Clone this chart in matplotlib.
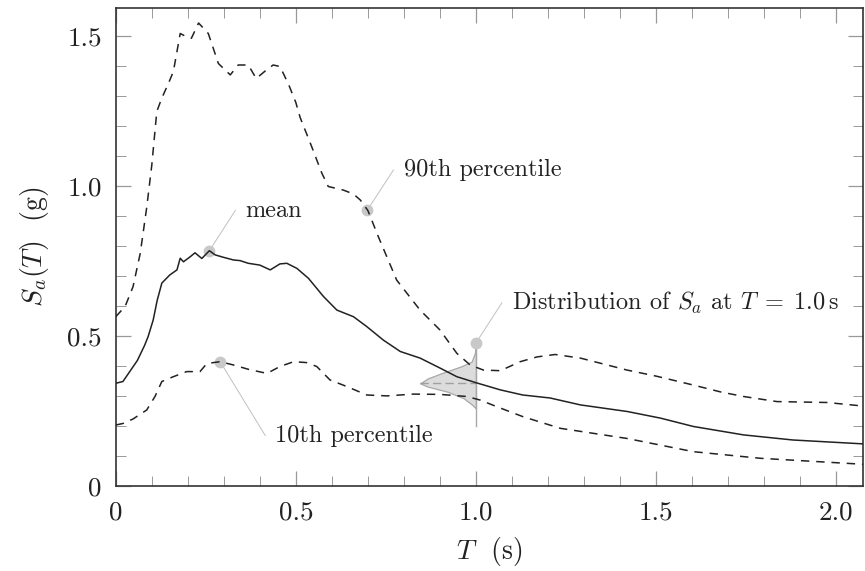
import numpy as np
import matplotlib
matplotlib.use("Agg")
import matplotlib.pyplot as plt
from matplotlib.ticker import MultipleLocator

# LaTeX-like look
plt.rcParams['font.family'] = 'serif'
plt.rcParams['font.serif'] = ['cmr10']
plt.rcParams['mathtext.fontset'] = 'cm'
plt.rcParams['axes.formatter.use_mathtext'] = True

#################
# curve data    #
#################
T_p90 = [0.0, 0.026, 0.048, 0.068, 0.086, 0.10, 0.114, 0.128, 0.145, 0.16, 0.179, 0.195,
         0.21, 0.23, 0.257, 0.285, 0.318, 0.34, 0.368, 0.39, 0.415, 0.437, 0.456, 0.48,
         0.50, 0.512, 0.544, 0.572, 0.59, 0.632, 0.66, 0.679, 0.70, 0.729, 0.78, 0.845,
         0.90, 0.947, 0.984, 1.021, 1.068, 1.123, 1.17, 1.22, 1.29, 1.42, 1.50, 1.604,
         1.68, 1.743, 1.836, 1.975, 2.076]
Sa_p90 = [0.566, 0.60, 0.666, 0.777, 0.93, 1.07, 1.25, 1.295, 1.34, 1.383, 1.51, 1.50,
          1.494, 1.545, 1.51, 1.41, 1.372, 1.405, 1.405, 1.36, 1.385, 1.405, 1.40, 1.34,
          1.28, 1.23, 1.133, 1.045, 1.0, 0.988, 0.975, 0.955, 0.92, 0.833, 0.688, 0.588,
          0.522, 0.444, 0.405, 0.388, 0.386, 0.416, 0.432, 0.44, 0.428, 0.388, 0.368, 0.338,
          0.315, 0.30, 0.283, 0.28, 0.268]

T_mean = [0.0, 0.02, 0.04, 0.06, 0.08, 0.09, 0.104, 0.115, 0.128, 0.15, 0.17, 0.179,
          0.188, 0.207, 0.22, 0.239, 0.26, 0.276, 0.299, 0.327, 0.345, 0.368, 0.40, 0.429,
          0.456, 0.475, 0.503, 0.535, 0.577, 0.614, 0.66, 0.697, 0.743, 0.79, 0.845, 0.90,
          0.947, 1.003, 1.068, 1.13, 1.206, 1.29, 1.42, 1.512, 1.604, 1.743, 1.88, 2.076]
Sa_mean = [0.344, 0.35, 0.385, 0.42, 0.47, 0.50, 0.555, 0.62, 0.678, 0.705, 0.722, 0.761,
           0.749, 0.766, 0.779, 0.76, 0.786, 0.772, 0.764, 0.755, 0.753, 0.744, 0.738, 0.722,
           0.742, 0.744, 0.727, 0.694, 0.633, 0.588, 0.566, 0.533, 0.488, 0.45, 0.428, 0.395,
           0.366, 0.345, 0.322, 0.305, 0.295, 0.272, 0.25, 0.228, 0.20, 0.172, 0.155, 0.142]

T_p10 = [0.0, 0.02, 0.048, 0.086, 0.109, 0.128, 0.16, 0.197, 0.234, 0.253, 0.29, 0.327,
         0.37, 0.42, 0.456, 0.494, 0.53, 0.558, 0.595, 0.642, 0.697, 0.753, 0.826, 0.90,
         0.975, 1.012, 1.058, 1.13, 1.234, 1.42, 1.512, 1.604, 1.79, 2.076]
Sa_p10 = [0.205, 0.21, 0.225, 0.255, 0.30, 0.35, 0.366, 0.383, 0.383, 0.41, 0.416, 0.405,
          0.39, 0.377, 0.40, 0.416, 0.413, 0.40, 0.355, 0.333, 0.305, 0.302, 0.308, 0.307,
          0.30, 0.288, 0.266, 0.233, 0.194, 0.16, 0.138, 0.116, 0.094, 0.074]

# distribution of Sa at T = 1.0 s (width of the shape, in T units)
T_dist = 1.0
dist_sa = [0.472, 0.444, 0.416, 0.40, 0.377, 0.36, 0.349, 0.344, 0.333, 0.316, 0.294, 0.272, 0.26]
dist_w = [0.0, 0.003, 0.012, 0.042, 0.097, 0.134, 0.148, 0.155, 0.134, 0.079, 0.034, 0.010, 0.0]
dist_mode = 0.344

# annotations: (dot T, dot Sa, text T, text Sa, label)
notes = [
    (0.699, 0.922, 0.771, 1.055, "90th percentile"),
    (0.26, 0.786, 0.332, 0.92, "mean"),
    (0.29, 0.416, 0.415, 0.17, "10th percentile"),
    (1.0, 0.478, 1.072, 0.612, r"Distribution of $S_a$ at $T\;=\;1.0\,\mathrm{s}$"),
]

fig = plt.figure(figsize=(8.65, 5.71), dpi=100)
ax = fig.add_axes([0.1338, 0.148, 0.864, 0.838])

dark = '#222222'
light = '#c8c8c8'

# distribution shape
ax.fill_betweenx(dist_sa, T_dist - np.array(dist_w), T_dist, color='#dcdcdc',
                 edgecolor='#a8a8a8', linewidth=0.9, zorder=1)
ax.plot([T_dist, T_dist], [0.2, 0.478], color='#a8a8a8', lw=1.0, zorder=1)
ax.plot([T_dist - max(dist_w), T_dist], [dist_mode, dist_mode], color='#a0a0a0',
        lw=1.0, dashes=(6, 3), zorder=1)

ax.plot(T_p90, Sa_p90, color=dark, lw=1.1, dashes=(5.5, 4.5), zorder=3)
ax.plot(T_mean, Sa_mean, color=dark, lw=1.1, zorder=3)
ax.plot(T_p10, Sa_p10, color=dark, lw=1.1, dashes=(5.5, 4.5), zorder=3)

for x0, y0, x1, y1, txt in notes:
    ax.plot([x0, x1], [y0, y1], color='#c0c0c0', lw=0.7, zorder=2)
    ax.plot(x0, y0, 'o', color=light, ms=8.5, mec='none', zorder=2)
    ax.text(x1 + 0.028, y1, txt, fontsize=17.5, color=dark, ha='left', va='center')

ax.set_xlim(0, 2.075)
ax.set_ylim(0, 1.595)
ax.xaxis.set_major_locator(MultipleLocator(0.5))
ax.xaxis.set_minor_locator(MultipleLocator(0.1))
ax.yaxis.set_major_locator(MultipleLocator(0.5))
ax.yaxis.set_minor_locator(MultipleLocator(0.1))
ax.set_xticks([0, 0.5, 1.0, 1.5, 2.0])
ax.set_xticklabels(['0', '0.5', '1.0', '1.5', '2.0'])
ax.set_yticks([0, 0.5, 1.0, 1.5])
ax.set_yticklabels(['0', '0.5', '1.0', '1.5'])

ax.tick_params(which='both', direction='in', top=True, right=True, color='#999999',
               labelsize=19.5, labelcolor=dark)
ax.tick_params(which='major', length=11, width=0.9, pad=10)
ax.tick_params(which='minor', length=7.5, width=0.7)
for s in ax.spines.values():
    s.set_color('#333333')
    s.set_linewidth(1.2)

ax.set_xlabel(r"$T$  (s)", fontsize=20, color=dark, labelpad=8)
ax.set_ylabel(r"$S_a(T)$  (g)", fontsize=20, color=dark, labelpad=12)

fig.savefig("out.png", dpi=100)
